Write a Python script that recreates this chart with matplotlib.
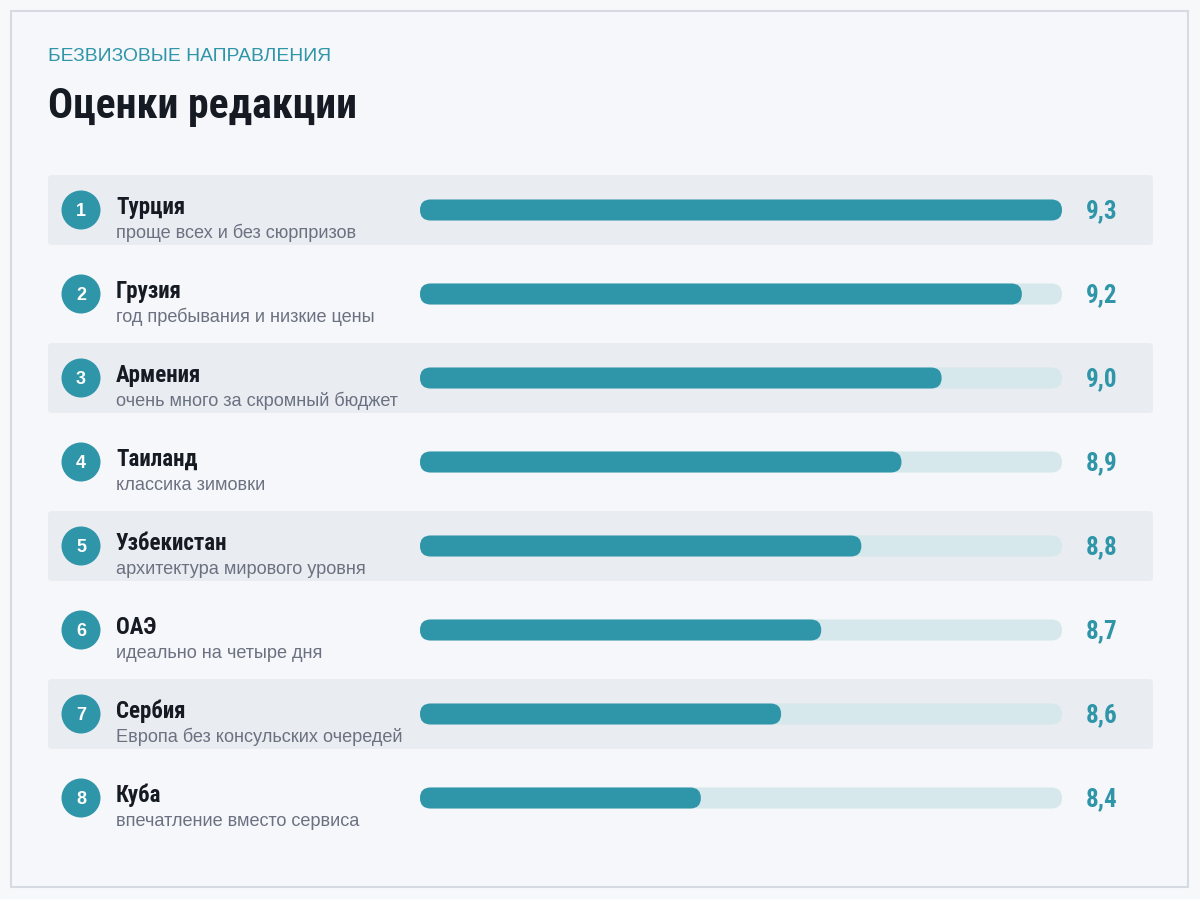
import matplotlib.pyplot as plt
from matplotlib.patches import FancyBboxPatch, Circle, Rectangle

# data
countries = ["Турция", "Грузия", "Армения", "Таиланд", "Узбекистан", "ОАЭ", "Сербия", "Куба"]
notes = [
    "проще всех и без сюрпризов",
    "год пребывания и низкие цены",
    "очень много за скромный бюджет",
    "классика зимовки",
    "архитектура мирового уровня",
    "идеально на четыре дня",
    "Европа без консульских очередей",
    "впечатление вместо сервиса",
]
scores = [9.3, 9.2, 9.0, 8.9, 8.8, 8.7, 8.6, 8.4]
score_min, score_max = 7.7, 9.3

TEAL = "#2f95a8"
TRACK = "#d6e8eb"
BAND = "#e9ecf1"
DARK = "#161a22"
GREY = "#6b7180"
NARROW = ["Roboto Condensed", "Liberation Sans", "DejaVu Sans"]
SANS = ["Liberation Sans", "DejaVu Sans"]

W, H = 1200, 899
fig = plt.figure(figsize=(W / 100, H / 100), dpi=100, facecolor="#f7f8fa")

# background axes in pixel units
ax = fig.add_axes([0, 0, 1, 1])
ax.set_xlim(0, W)
ax.set_ylim(H, 0)
ax.axis("off")

ax.add_patch(Rectangle((11, 11), 1177, 876, facecolor="#f5f7fa", edgecolor="#d5dae3", lw=1.5))

ax.text(48, 61, "БЕЗВИЗОВЫЕ НАПРАВЛЕНИЯ", color=TEAL, fontsize=13.9, family=SANS, va="baseline")
ax.text(48, 118, "Оценки редакции", color=DARK, fontsize=30, family=NARROW, weight="bold", va="baseline")

row_top, row_h = 168, 84
for i, (name, note, val) in enumerate(zip(countries, notes, scores)):
    yc = row_top + row_h / 2 + row_h * i
    if i % 2 == 0:
        ax.add_patch(FancyBboxPatch((48, yc - 35), 1105, 70,
                                    boxstyle="round,pad=0,rounding_size=4",
                                    facecolor=BAND, edgecolor="none"))
    ax.add_patch(Circle((81, yc), 19.5, facecolor=TEAL, edgecolor="none"))
    ax.text(81, yc + 1, str(i + 1), color="white", fontsize=13, weight="bold",
            family=SANS, ha="center", va="center")
    ax.text(116, yc + 4, name, color=DARK, fontsize=16.5, weight="bold", family=NARROW, va="baseline")
    ax.text(116, yc + 28, note, color=GREY, fontsize=13.1, family=SANS, va="baseline")
    ax.text(1086, yc + 1, f"{val:.1f}".replace(".", ","), color=TEAL, fontsize=18,
            weight="bold", family=NARROW, va="center")

# bars axes over the track area
tx0, tx1 = 420, 1062
bx = fig.add_axes([tx0 / W, (H - (row_top + row_h * len(scores))) / H,
                   (tx1 - tx0) / W, row_h * len(scores) / H])
bx.set_xlim(score_min, score_max)
bx.set_ylim(len(scores) - 0.5, -0.5)
bx.axis("off")
bx.patch.set_alpha(0)

x_per_px = (score_max - score_min) / (tx1 - tx0)
y_per_px = 1 / row_h
bar_px = 21
h = bar_px * y_per_px
r = bar_px / 2 * x_per_px
aspect = y_per_px / x_per_px

for i, val in enumerate(scores):
    bx.add_patch(FancyBboxPatch((score_min, i - h / 2), score_max - score_min, h,
                                boxstyle=f"round,pad=0,rounding_size={r}",
                                mutation_aspect=aspect, facecolor=TRACK, edgecolor="none"))
    bx.add_patch(FancyBboxPatch((score_min, i - h / 2), val - score_min, h,
                                boxstyle=f"round,pad=0,rounding_size={r}",
                                mutation_aspect=aspect, facecolor=TEAL, edgecolor="none"))

fig.savefig("out.png", dpi=100, facecolor=fig.get_facecolor())
